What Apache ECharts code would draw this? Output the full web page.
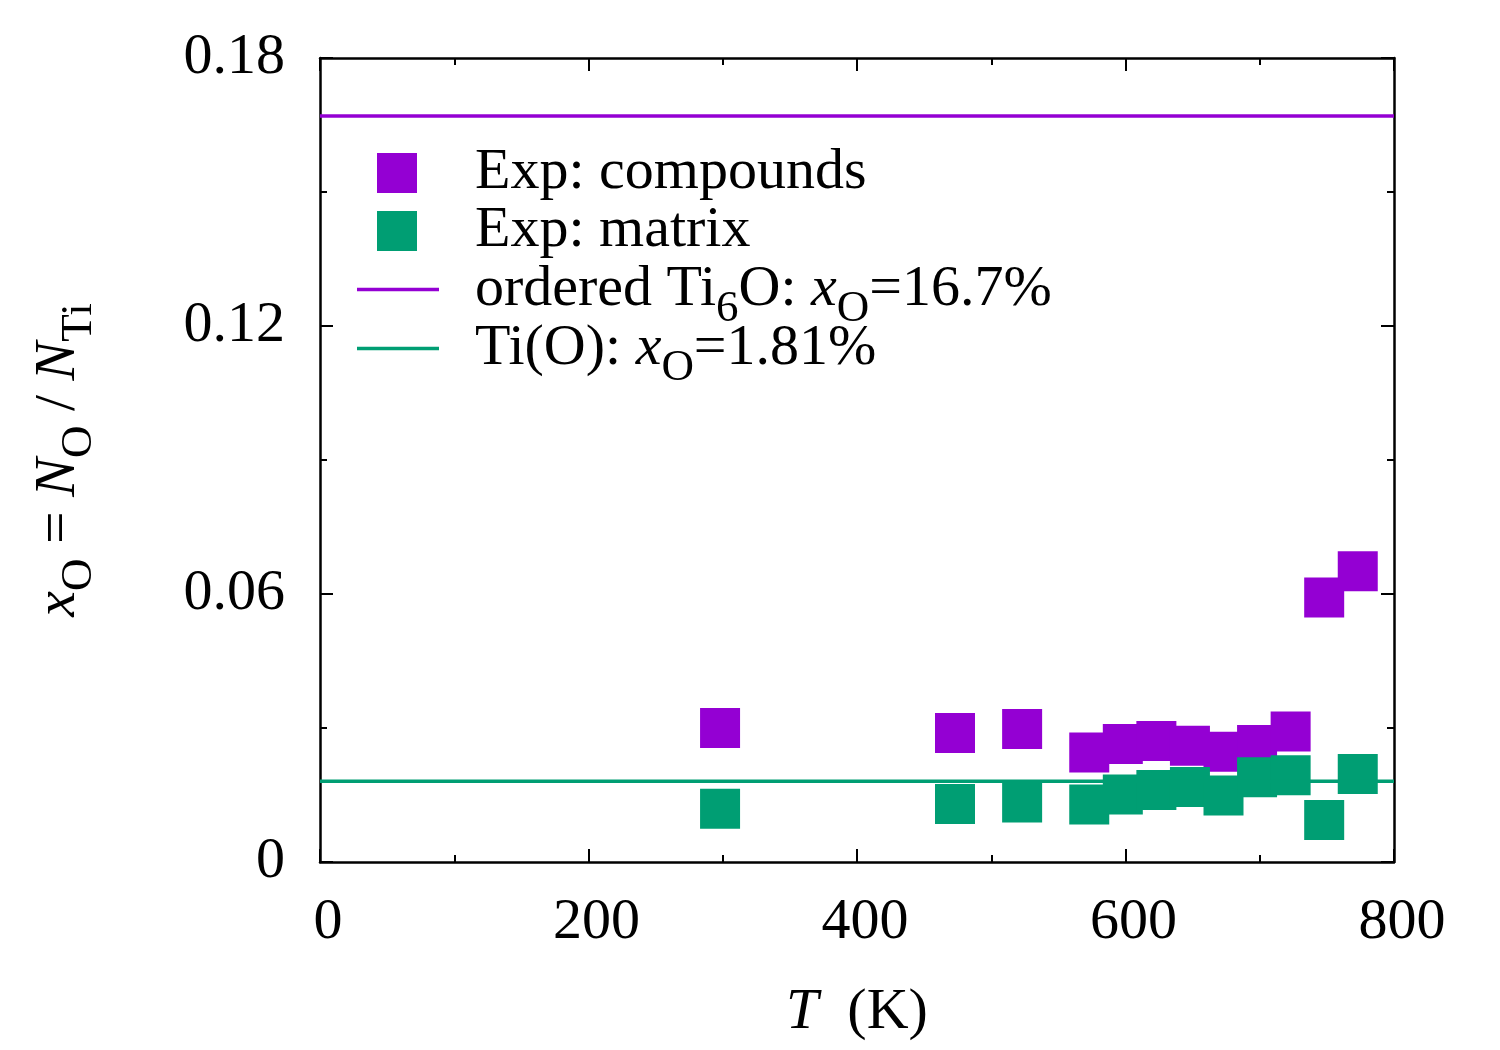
<!DOCTYPE html>
<html>
<head>
<meta charset="utf-8">
<script src="https://cdn.jsdelivr.net/npm/echarts@6/dist/echarts.min.js"></script>
<style>html,body{margin:0;padding:0;background:#fff;}#c{width:1500px;height:1050px;}</style>
</head>
<body>
<div id="c"></div>
<script>
// ---- data ----
const temps = [298, 473, 523, 573, 598, 623, 648, 673, 698, 723, 748, 773];
const compounds = [0.0300, 0.0289, 0.0298, 0.0245, 0.0264, 0.0271, 0.0260, 0.0247, 0.0262, 0.0292, 0.0592, 0.0651];
const matrix = [0.0119, 0.0130, 0.0133, 0.0129, 0.0151, 0.0161, 0.0168, 0.0149, 0.0190, 0.0194, 0.0094, 0.0197];
const orderedLevel = 0.167;
const tioLevel = 0.0181;
const xRange = [0, 800];
const seriesNames = ['Exp: compounds', 'Exp: matrix', 'ordered Ti6O', 'Ti(O)'];

const PURPLE = '#9400D3';
const GREEN = '#009E73';
const FONT = 'Liberation Serif';
const FS = 58;

const sub = {fontFamily: FONT, fontSize: 45, lineHeight: 14, padding: [40, 0, 0, 0], color: '#000'};
const ital = {fontFamily: FONT, fontSize: FS, fontStyle: 'italic', color: '#000', lineHeight: 58};
const norm = {fontFamily: FONT, fontSize: FS, color: '#000', lineHeight: 58};

const chart = echarts.init(document.getElementById('c'), null, {renderer: 'canvas'});

const axisCommon = {
  axisLine: {show: true, onZero: false, lineStyle: {color: '#000', width: 2.5}},
  axisTick: {show: true, inside: true, length: 13, lineStyle: {color: '#000', width: 2}},
  minorTick: {show: true, splitNumber: 2, length: 7, lineStyle: {color: '#000', width: 2}},
  splitLine: {show: false}
};

const legendFormatter = function (name) {
  if (name === 'ordered Ti6O') return 'ordered Ti{s|6}O: {i|x}{s|O}=16.7%';
  if (name === 'Ti(O)') return 'Ti(O): {i|x}{s|O}=1.81%';
  return name;
};

const lineLegend = function (name, top) {
  return {
    data: [{name: name, icon: 'rect'}],
    orient: 'vertical', left: 352, top: top, itemWidth: 82, itemHeight: 3.5, itemGap: 0,
    formatter: legendFormatter,
    textStyle: {fontFamily: FONT, fontSize: FS, color: '#000', lineHeight: 58, padding: [0, 0, 0, 31],
      rich: {i: ital, s: sub}},
    selectedMode: false
  };
};

chart.setOption({
  animation: false,
  backgroundColor: '#fff',
  grid: {left: 320, right: 106, top: 58, bottom: 188, containLabel: false},
  xAxis: [
    Object.assign({
      type: 'value', min: xRange[0], max: xRange[1], interval: 200, position: 'bottom',
      name: '{i|T}  (K)', nameLocation: 'middle', nameGap: 122,
      nameTextStyle: {fontFamily: FONT, fontSize: FS, color: '#000', rich: {i: ital}},
      axisLabel: {show: true, margin: 32, fontFamily: FONT, fontSize: FS, color: '#000', padding: [0, 0, 0, 16]}
    }, axisCommon),
    Object.assign({
      type: 'value', min: xRange[0], max: xRange[1], interval: 200, position: 'top',
      axisLabel: {show: false}
    }, axisCommon)
  ],
  yAxis: [
    Object.assign({
      type: 'value', min: 0, max: 0.18, interval: 0.06, position: 'left',
      name: '{i|x}{s|O} = {i|N}{s|O} / {i|N}{s|Ti}', nameLocation: 'middle', nameGap: 232,
      nameTextStyle: {fontFamily: FONT, fontSize: FS, color: '#000', rich: {i: ital, s: sub, n: norm}},
      axisLabel: {show: true, margin: 35, fontFamily: FONT, fontSize: FS, color: '#000',
        padding: [4, 0, 0, 0],
        formatter: function (v) { return v === 0 ? '0' : String(+v.toFixed(2)); }}
    }, axisCommon),
    Object.assign({
      type: 'value', min: 0, max: 0.18, interval: 0.06, position: 'right',
      axisLabel: {show: false}
    }, axisCommon)
  ],
  legend: [
    {
      data: [{name: seriesNames[0], icon: 'rect'}, {name: seriesNames[1], icon: 'rect'}],
      orient: 'vertical', left: 372, top: 139, itemWidth: 40, itemHeight: 40, itemGap: 0,
      textStyle: {fontFamily: FONT, fontSize: FS, color: '#000', lineHeight: 58, padding: [0, 0, 0, 53]},
      selectedMode: false
    },
    lineLegend(seriesNames[2], 242),
    lineLegend(seriesNames[3], 301)
  ],
  series: [
    {
      name: seriesNames[0], type: 'scatter', symbol: 'rect', symbolSize: 40,
      itemStyle: {color: PURPLE, opacity: 1},
      data: temps.map((t, i) => [t, compounds[i]]), z: 3
    },
    {
      name: seriesNames[1], type: 'scatter', symbol: 'rect', symbolSize: 40,
      itemStyle: {color: GREEN, opacity: 1},
      data: temps.map((t, i) => [t, matrix[i]]), z: 4
    },
    {
      name: seriesNames[2], type: 'line', showSymbol: false, symbol: 'none',
      lineStyle: {color: PURPLE, width: 3.5}, itemStyle: {color: PURPLE},
      data: [[xRange[0], orderedLevel], [xRange[1], orderedLevel]], z: 5
    },
    {
      name: seriesNames[3], type: 'line', showSymbol: false, symbol: 'none',
      lineStyle: {color: GREEN, width: 3.5}, itemStyle: {color: GREEN},
      data: [[xRange[0], tioLevel], [xRange[1], tioLevel]], z: 5
    }
  ]
});
</script>
</body>
</html>
